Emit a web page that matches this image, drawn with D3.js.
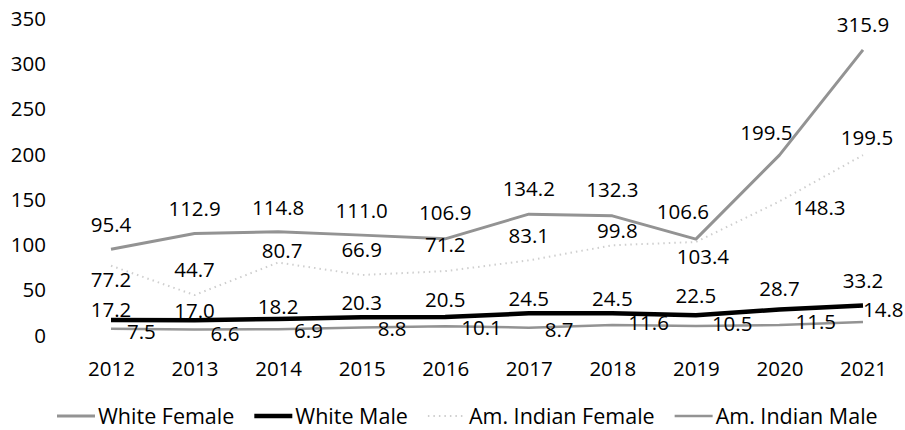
<!DOCTYPE html>
<html>
<head>
<meta charset="utf-8">
<script src="https://cdn.jsdelivr.net/npm/d3@7"></script>
<style>
  body { margin: 0; background: #fff; }
  svg { display: block; }
  text { font-family: "Open Sans", "Noto Sans", sans-serif; font-size: 20.5px; fill: #000; }
  .legend text { font-size: 21.5px; }
</style>
</head>
<body>
<div id="chart"></div>
<script>
// values
const years = ['2012', '2013', '2014', '2015', '2016', '2017', '2018', '2019', '2020', '2021'];
const whiteFemale = [95.4, 112.9, 114.8, 111.0, 106.9, 134.2, 132.3, 106.6, 199.5, 315.9];
const whiteMale = [17.2, 17.0, 18.2, 20.3, 20.5, 24.5, 24.5, 22.5, 28.7, 33.2];
const amIndianFemale = [77.2, 44.7, 80.7, 66.9, 71.2, 83.1, 99.8, 103.4, 148.3, 199.5];
const amIndianMale = [7.5, 6.6, 6.9, 8.8, 10.1, 8.7, 11.6, 10.5, 11.5, 14.8];
const yTicks = [0, 50, 100, 150, 200, 250, 300, 350];

const width = 905, height = 430;

// label nudges (px from the point), the original had them dragged around a bit
const labelDx = {
  wf: [0, 0, 0, 0, 0, 0, 0, -13, -13, 0],
  wm: [0, 0, 0, 0, 0, 0, 0, 0, 0, 0],
  aif: [0, 0, 4, 0, 0, 0, 5, 7, 40, 4],
  aim: [16, 16, 16, 16, 16, 16, 16, 16, 16, 0]
};
const labelDy = {
  wf: [-25, -25, -24, -25, -26, -26, -26, -27, -22, -25],
  wm: [-10, -10, -12, -15, -17, -15, -15, -20, -21, -25],
  aif: [14, -25, -12, -25, -26, -25, -15, 15, 6, -17],
  aim: [3, 4, 1, 1, 1, 2, -2, -2, -3, -12]
};

const series = [
  { key: 'wf', name: 'White Female', values: whiteFemale, color: '#939393', w: 3, dash: null, anchor: 'middle' },
  { key: 'wm', name: 'White Male', values: whiteMale, color: '#000', w: 4.5, dash: null, anchor: 'middle' },
  { key: 'aif', name: 'Am. Indian Female', values: amIndianFemale, color: '#cfcfcf', w: 2, dash: '1.5,4', anchor: 'middle' },
  { key: 'aim', name: 'Am. Indian Male', values: amIndianMale, color: '#939393', w: 2.5, dash: null, anchor: 'start' }
];

const svg = d3.select('#chart').append('svg')
  .attr('width', width)
  .attr('height', height);

const x = d3.scalePoint().domain(years).range([111, 863]);
const y = d3.scaleLinear().domain([0, 350]).range([335.5, 19]);

// y axis, labels only
svg.append('g')
  .attr('transform', 'translate(52,0)')
  .call(d3.axisLeft(y).tickValues(yTicks).tickSize(0).tickPadding(6))
  .call(g => g.select('.domain').remove())
  .selectAll('text')
  .attr('font-size', null)
  .attr('font-family', null);

// x axis, labels only
svg.append('g')
  .attr('transform', 'translate(0,355)')
  .call(d3.axisBottom(x).tickSize(0).tickPadding(6))
  .call(g => g.select('.domain').remove())
  .selectAll('text')
  .attr('font-size', null)
  .attr('font-family', null);

let line = d3.line()
  .x((d, i) => x(years[i]))
  .y(d => y(d));

// draw from back to front so the black line sits on top
[series[2], series[0], series[3], series[1]].forEach(s => {
  svg.append('path')
    .datum(s.values)
    .attr('fill', 'none')
    .attr('stroke', s.color)
    .attr('stroke-width', s.w)
    .attr('stroke-dasharray', s.dash)
    .attr('stroke-linejoin', 'round')
    .attr('d', line);
});

series.forEach(s => {
  svg.append('g').selectAll('text')
    .data(s.values)
    .enter().append('text')
    .attr('x', (d, i) => x(years[i]) + labelDx[s.key][i])
    .attr('y', (d, i) => y(d) + labelDy[s.key][i])
    .attr('dy', '0.36em')
    .attr('text-anchor', s.anchor)
    .text(d => d.toFixed(1));
});

// legend, left aligned like the original
let legend = svg.append('g')
  .attr('class', 'legend')
  .attr('transform', 'translate(57,416)');
let lx = 0;
series.forEach(s => {
  let item = legend.append('g').attr('transform', `translate(${lx},0)`);
  item.append('line')
    .attr('x1', 0).attr('x2', 38)
    .attr('y1', 0).attr('y2', 0)
    .attr('stroke', s.color)
    .attr('stroke-width', s.w)
    .attr('stroke-dasharray', s.dash);
  let t = item.append('text')
    .attr('x', 41)
    .attr('dy', '0.36em')
    .text(s.name);
  lx += 41 + t.node().getComputedTextLength() + 20;
});
</script>
</body>
</html>
